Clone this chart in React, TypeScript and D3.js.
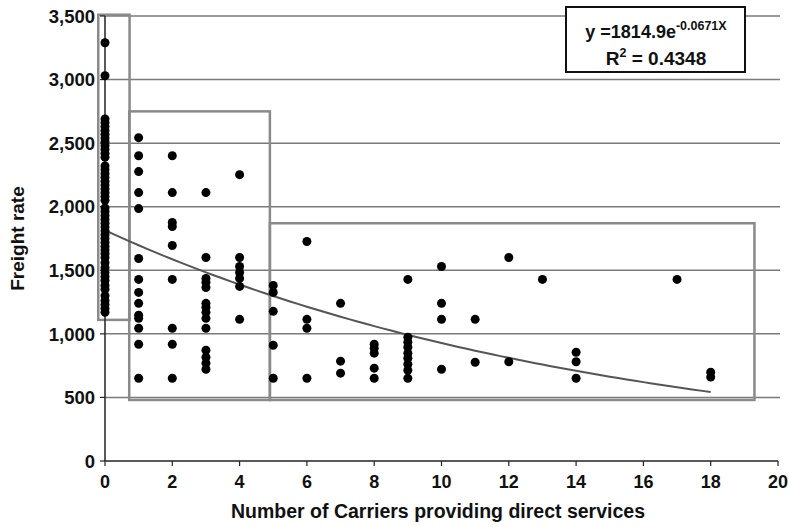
import * as d3 from 'd3';

// Freight rate vs number of carriers providing direct services
const carriers0 = [
  3290, 3030, 2690, 2660, 2630, 2600, 2570, 2540, 2510, 2480, 2450, 2420, 2390,
  2320, 2290, 2260, 2230, 2200, 2170, 2140, 2110, 2080, 2050, 1990, 1960, 1930,
  1900, 1870, 1840, 1810, 1780, 1750, 1720, 1690, 1660, 1630, 1600, 1560, 1520,
  1480, 1450, 1420, 1380, 1350, 1300, 1260, 1230, 1200, 1170,
];
const carriers1 = [2543, 2401, 2276, 2111, 1985, 1593, 1428, 1326, 1240, 1146, 1122, 1044, 918, 651];
const carriers2 = [2401, 2111, 1876, 1844, 1695, 1428, 1044, 918, 651];
const carriers3 = [2111, 1601, 1436, 1405, 1365, 1240, 1209, 1169, 1122, 1044, 871, 816, 769, 722];
const carriers4 = [2252, 1601, 1530, 1483, 1436, 1373, 1114];
const carriers5 = [1381, 1326, 1177, 910, 651];
const carriers6 = [1726, 1114, 1044, 651];
const carriers7 = [1240, 785, 691];
const carriers8 = [918, 887, 848, 730, 651];
const carriers9 = [1428, 973, 934, 895, 848, 808, 761, 714, 651];
const carriers10 = [1530, 1240, 1114, 722];
const carriers11 = [1114, 777];
const carriers12 = [1601, 781];
const carriers13 = [1428];
const carriers14 = [855, 781, 651];
const carriers17 = [1428];
const carriers18 = [699, 660];

const columns: [number, number[]][] = [
  [0, carriers0], [1, carriers1], [2, carriers2], [3, carriers3], [4, carriers4],
  [5, carriers5], [6, carriers6], [7, carriers7], [8, carriers8], [9, carriers9],
  [10, carriers10], [11, carriers11], [12, carriers12], [13, carriers13],
  [14, carriers14], [17, carriers17], [18, carriers18],
];
const points: [number, number][] = columns.flatMap(([c, vals]) => vals.map(v => [c, v] as [number, number]));

const xTicks = [0, 2, 4, 6, 8, 10, 12, 14, 16, 18, 20];
const yTicks = [0, 500, 1000, 1500, 2000, 2500, 3000, 3500];

// grouping boxes in data units: [x0, x1, y0, y1]
const groupBoxes: [number, number, number, number][] = [
  [-0.2, 0.73, 1110, 3510],
  [0.72, 4.9, 480, 2750],
  [4.9, 19.3, 480, 1870],
];

const fitA = 1814.9;
const fitB = -0.0671;

const W = 789;
const H = 527;
const margin = { left: 105, right: 11, top: 16, bottom: 66 };

export default function App() {
  const x = d3.scaleLinear().domain([0, 20]).range([margin.left, W - margin.right]);
  const y = d3.scaleLinear().domain([0, 3500]).range([H - margin.bottom, margin.top]);

  const fitData = d3.range(0, 18.01, 0.25).map(t => [t, fitA * Math.exp(fitB * t)] as [number, number]);
  const fitLine = d3.line<[number, number]>().x(d => x(d[0])).y(d => y(d[1]));

  const font = 'Arial, "Liberation Sans", Helvetica, sans-serif';

  return (
    <svg
      width={W}
      height={H}
      style={{ position: 'absolute', left: 0, top: 0, background: '#fff' }}
      fontFamily={font}
    >
      {/* gridlines */}
      {yTicks.filter(t => t > 0).map(t => (
        <line key={t} x1={x(0)} x2={x(20) + 2} y1={y(t)} y2={y(t)} stroke="#7a7a7a" strokeWidth={1.5} />
      ))}

      {/* group boxes */}
      {groupBoxes.map((b, i) => (
        <rect
          key={i}
          x={x(b[0])}
          y={y(b[3])}
          width={x(b[1]) - x(b[0])}
          height={y(b[2]) - y(b[3])}
          fill="none"
          stroke="#8a8a8a"
          strokeWidth={2.5}
        />
      ))}

      {/* axes */}
      <line x1={x(0)} x2={x(0)} y1={y(3500)} y2={y(0)} stroke="#222" strokeWidth={1.5} />
      <line x1={x(0)} x2={x(20)} y1={y(0)} y2={y(0)} stroke="#222" strokeWidth={1.5} />
      {yTicks.map(t => (
        <g key={t}>
          <line x1={x(0) - 5} x2={x(0)} y1={y(t)} y2={y(t)} stroke="#222" strokeWidth={1.2} />
          <text x={x(0) - 10} y={y(t)} dy="0.36em" textAnchor="end" fontSize={18.5} fontWeight="bold" fill="#111">
            {d3.format(',')(t)}
          </text>
        </g>
      ))}
      {xTicks.map(t => (
        <g key={t}>
          <line x1={x(t)} x2={x(t)} y1={y(0)} y2={y(0) + 5} stroke="#222" strokeWidth={1.2} />
          <text x={x(t)} y={y(0) + 27} textAnchor="middle" fontSize={18} fontWeight="bold" fill="#111">
            {t}
          </text>
        </g>
      ))}

      {/* trend line */}
      <path d={fitLine(fitData) ?? ''} fill="none" stroke="#555" strokeWidth={2} />

      {/* points */}
      {points.map((p, i) => (
        <circle key={i} cx={x(p[0])} cy={y(p[1])} r={4.5} fill="#000" />
      ))}

      {/* axis titles */}
      <text
        transform={`translate(24, ${(y(0) + y(3500)) / 2}) rotate(-90)`}
        textAnchor="middle"
        fontSize={19}
        fontWeight="bold"
        fill="#111"
      >
        Freight rate
      </text>
      <text x={438} y={518} textAnchor="middle" fontSize={19.5} fontWeight="bold" fill="#111">
        Number of Carriers providing direct services
      </text>

      {/* equation box */}
      <rect x={566} y={7} width={179} height={65} fill="#fff" stroke="#111" strokeWidth={2} />
      <text x={656} y={38} textAnchor="middle" fontSize={18} fontWeight="bold" fill="#111">
        y =1814.9e
        <tspan fontSize={12.5} dy={-8}>-0.0671X</tspan>
      </text>
      <text x={656} y={65} textAnchor="middle" fontSize={19} fontWeight="bold" fill="#111">
        R<tspan fontSize={12.5} dy={-8}>2</tspan>
        <tspan dy={8}> = 0.4348</tspan>
      </text>
    </svg>
  );
}
